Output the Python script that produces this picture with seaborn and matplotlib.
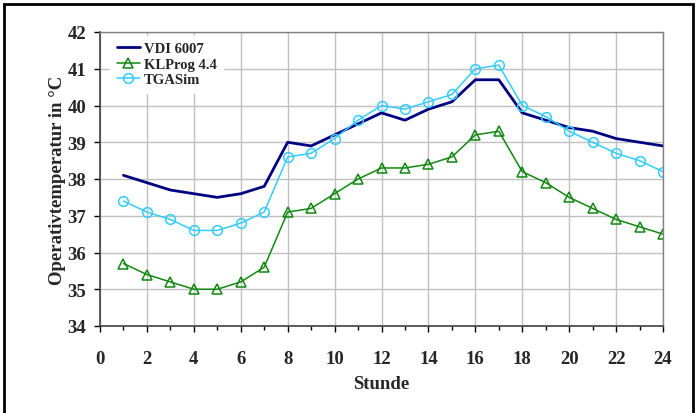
import matplotlib
matplotlib.use('Agg')
import matplotlib.pyplot as plt
import seaborn as sns
import pandas as pd
from matplotlib.patches import Rectangle

# hourly operative temperatures
stunde = list(range(1, 25))
vdi_6007 = [38.1, 37.9, 37.7, 37.6, 37.5, 37.6, 37.8, 39.0, 38.9, 39.2, 39.5, 39.8,
            39.6, 39.9, 40.1, 40.7, 40.7, 39.8, 39.6, 39.4, 39.3, 39.1, 39.0, 38.9]
klprog = [35.7, 35.4, 35.2, 35.0, 35.0, 35.2, 35.6, 37.1, 37.2, 37.6, 38.0, 38.3,
          38.3, 38.4, 38.6, 39.2, 39.3, 38.2, 37.9, 37.5, 37.2, 36.9, 36.7, 36.5]
tgasim = [37.4, 37.1, 36.9, 36.6, 36.6, 36.8, 37.1, 38.6, 38.7, 39.1, 39.6, 40.0,
          39.9, 40.1, 40.3, 41.0, 41.1, 40.0, 39.7, 39.3, 39.0, 38.7, 38.5, 38.2]

df = pd.DataFrame({'Stunde': stunde, 'VDI 6007': vdi_6007,
                   'KLProg 4.4': klprog, 'TGASim': tgasim})

sns.set_style('white')
plt.rcParams['font.family'] = ['Liberation Serif', 'DejaVu Serif']
plt.rcParams['font.weight'] = 'bold'

fig = plt.figure(figsize=(6.99, 4.14), dpi=100)
ax = fig.add_axes([100 / 699, 1 - 327 / 414, 563 / 699, 294 / 414])

sns.lineplot(data=df, x='Stunde', y='VDI 6007', ax=ax, color='#000080',
             linewidth=2, label='VDI 6007')
sns.lineplot(data=df, x='Stunde', y='KLProg 4.4', ax=ax, color='#118811',
             linewidth=1.1, marker='^', markersize=7, markerfacecolor='none',
             markeredgecolor='#118811', markeredgewidth=1.1, label='KLProg 4.4')
sns.lineplot(data=df, x='Stunde', y='TGASim', ax=ax, color='#33ccff',
             linewidth=1.1, marker='o', markersize=7, markerfacecolor='none',
             markeredgecolor='#33ccff', markeredgewidth=1.1, label='TGASim')

ax.set_xlim(0, 24)
ax.set_ylim(34, 42)
ax.set_xticks(range(0, 25, 2))
ax.set_xticks(range(1, 25, 2), minor=True)
ax.set_yticks(range(34, 43))
ax.tick_params(axis='both', which='major', direction='out', length=4, width=1,
               labelsize=13.5, color='black')
ax.tick_params(axis='x', which='major', pad=13)
ax.tick_params(axis='y', which='major', pad=6)
ax.tick_params(axis='x', which='minor', direction='out', length=3, width=1, color='black')
ax.tick_params(bottom=True, left=True, which='both')
ax.grid(True, which='major', color='#c0c0c0', linewidth=1)
ax.set_axisbelow(True)

for s in ['top', 'right']:
    ax.spines[s].set_color('#808080')
    ax.spines[s].set_linewidth(1)
for s in ['left', 'bottom']:
    ax.spines[s].set_color('#404040')
    ax.spines[s].set_linewidth(1.2)

ax.set_xlabel('Stunde', fontsize=13.5, fontweight='bold')
ax.set_ylabel('Operativtemperatur in °C', fontsize=13.5, fontweight='bold')
ax.xaxis.set_label_coords(0.5, -0.165)
ax.yaxis.set_label_coords(-0.06, 0.5)

leg = ax.legend(loc='upper left', bbox_to_anchor=(0.018, 0.988), frameon=True,
                fontsize=10.5, handlelength=1.6, borderaxespad=0,
                labelspacing=0.15, handletextpad=0.25, borderpad=0.45,
                fancybox=False)
leg.get_frame().set_edgecolor('white')
leg.get_frame().set_facecolor('white')
leg.get_frame().set_alpha(1)
leg.set_zorder(2)
for t in leg.get_texts():
    t.set_fontweight('bold')

# black frame around the whole chart
fig.patches.append(Rectangle((4 / 699, -0.05), 689 / 699, 1.05 - 5 / 414,
                             transform=fig.transFigure, fill=False,
                             edgecolor='black', linewidth=2))

fig.savefig('out.png', dpi=100)
